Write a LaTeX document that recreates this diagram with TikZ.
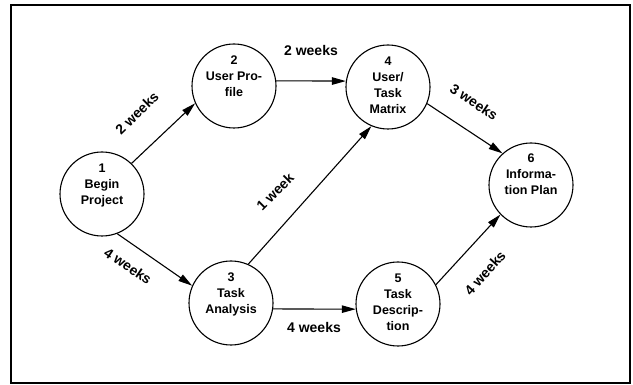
\documentclass[tikz,border=0pt]{standalone}
\usepackage{fontspec}
\setmainfont{Liberation Sans}
\usetikzlibrary{arrows.meta}

\tikzset{
  stage/.style={circle, draw, line width=1.1pt, minimum size=84pt, inner sep=0pt},
  stagetxt/.style={anchor=north, align=center, inner sep=0pt,
    font=\bfseries\fontsize{12.5}{16}\selectfont},
  arr/.style={line width=1.1pt, -{Triangle[length=14pt,width=7.5pt]}},
  dur/.style={font=\bfseries\fontsize{14}{16}\selectfont, inner sep=0pt}
}

\begin{document}
\begin{tikzpicture}[x=1pt, y=-1pt]
  \useasboundingbox (0,0) rectangle (633,385);
  \draw[line width=2pt] (11,5) rectangle (630,383);

  % stages
  \node[stage] (n1) at (102,194) {};
  \node[stage] (n2) at (234,86) {};
  \node[stage] (n3) at (231,303) {};
  \node[stage] (n4) at (388,87) {};
  \node[stage] (n5) at (398,304) {};
  \node[stage] (n6) at (531,185) {};

  \node[stagetxt] (t1) at ([yshift=30pt]n1.center) {1\\Begin\\Project};
  \node[stagetxt] (t2) at ([yshift=30pt]n2.center) {2\\User Pro-\\file};
  \node[stagetxt] (t3) at ([yshift=30pt]n3.center) {3\\Task\\Analysis};
  \node[stagetxt] (t4) at ([yshift=30pt]n4.center) {4\\User/\\Task\\Matrix};
  \node[stagetxt] (t5) at ([yshift=30pt]n5.center) {5\\Task\\Descrip-\\tion};
  \node[stagetxt] (t6) at ([yshift=31pt]n6.center) {6\\Informa-\\tion Plan};

  % dependencies
  \draw[arr] (n1.46)  -- (n2.204);
  \draw[arr] (n2.7)   -- (n4.172);
  \draw[arr] (n1.291) -- (n3.156);
  \draw[arr] (n3.66)  -- (n4.247);
  \draw[arr] (n3.352) -- (n5.187);
  \draw[arr] (n4.337) -- (n6.132);
  \draw[arr] (n5.27)  -- (n6.224);

  % durations
  \node[dur, rotate=44]  (d12) at (137,113) {2 weeks};
  \node[dur]             (d24) at (311,50)  {2 weeks};
  \node[dur, rotate=-34] (d13) at (128,266) {4 weeks};
  \node[dur, rotate=45]  (d34) at (275,192) {1 week};
  \node[dur]             (d35) at (314,327) {4 weeks};
  \node[dur, rotate=-34] (d46) at (474,102) {3 weeks};
  \node[dur, rotate=48]  (d56) at (485,273) {4 weeks};
\end{tikzpicture}
\end{document}
